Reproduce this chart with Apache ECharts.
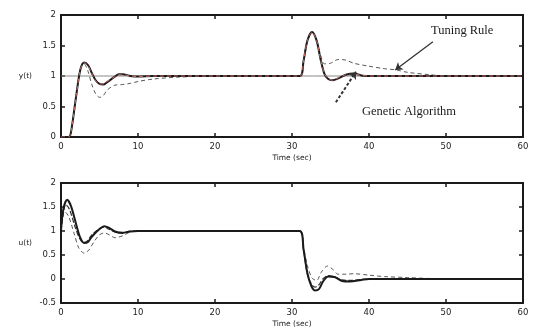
<!DOCTYPE html>
<html>
<head>
<meta charset="utf-8">
<script src="https://cdn.jsdelivr.net/npm/echarts@6/dist/echarts.min.js"></script>
<style>
  html, body { margin: 0; padding: 0; background: #fff; }
  #chart { width: 536px; height: 331px; }
</style>
</head>
<body>
<div id="chart"></div>
<script>
// output y(t): genetic algorithm (solid black), overlay (red dashed), tuning rule (thin dashed)
const yGA = [
  [0, 0], [1, 0], [1.3, 0.08], [2, 0.7], [2.5, 1.1], [3, 1.22], [3.5, 1.18], [4, 1.05],
  [4.5, 0.93], [5, 0.87], [5.5, 0.86], [6, 0.9], [7, 0.99], [7.5, 1.03], [8, 1.03], [9, 1.0],
  [10, 0.99], [12, 1.0], [31, 1.0], [31.5, 1.25], [32, 1.58], [32.6, 1.72], [33.2, 1.58],
  [33.7, 1.28], [34.2, 1.04], [34.7, 0.95], [35.3, 0.93], [36, 0.96], [37, 1.02], [38, 1.04],
  [39, 1.01], [40, 1.0], [60, 1.0]
];
const yRef = [
  [0, 0], [1, 0], [1.3, 0.08], [2, 0.7], [2.5, 1.1], [3, 1.22], [3.5, 1.17], [4, 1.04],
  [4.5, 0.92], [5, 0.87], [5.5, 0.87], [6, 0.91], [7, 0.99], [7.5, 1.02], [8, 1.02], [9, 1.0],
  [10, 0.99], [12, 1.0], [31, 1.0], [31.5, 1.25], [32, 1.58], [32.6, 1.72], [33.2, 1.58],
  [33.7, 1.28], [34.2, 1.04], [34.7, 0.96], [35.3, 0.93], [36, 0.97], [37, 1.02], [38, 1.03],
  [39, 1.01], [40, 1.0], [60, 1.0]
];
const yTR = [
  [0, 0], [1, 0], [1.3, 0.08], [2, 0.7], [2.5, 1.1], [3, 1.2], [3.5, 1.08], [4, 0.86],
  [4.5, 0.71], [5, 0.65], [5.5, 0.68], [6, 0.77], [7, 0.85], [8, 0.86], [9, 0.88], [10, 0.91],
  [12, 0.95], [15, 0.98], [20, 1.0], [31, 1.0], [31.5, 1.25], [32, 1.58], [32.6, 1.72],
  [33.2, 1.58], [33.7, 1.35], [34.2, 1.2], [35, 1.21], [36, 1.27], [37, 1.26], [38, 1.21],
  [40, 1.16], [42, 1.12], [43.5, 1.1], [45, 1.06], [48, 1.02], [50, 1.0], [60, 1.0]
];
const ySet = [[0, 1], [60, 1]];

// control u(t)
const uGA = [
  [0, 1.0], [0.3, 1.45], [0.8, 1.65], [1.3, 1.52], [2, 1.12], [2.5, 0.86], [3, 0.75],
  [3.5, 0.77], [4, 0.88], [5, 1.04], [5.6, 1.1], [6.2, 1.07], [7, 0.99], [8, 0.96], [9, 0.99],
  [10, 1.0], [31, 1.0], [31.5, 0.62], [32, 0.12], [32.5, -0.14], [33, -0.24], [33.5, -0.21],
  [34, -0.06], [34.7, 0.05], [35.5, 0.04], [36.5, -0.04], [37.5, -0.05], [39, -0.02],
  [40, 0], [60, 0]
];
const uGA2 = [
  [0, 1.0], [0.3, 1.35], [0.6, 1.55], [1.1, 1.45], [1.8, 1.1], [2.4, 0.85], [2.9, 0.76],
  [3.4, 0.79], [4, 0.92], [5, 1.05], [5.6, 1.08], [6.2, 1.04], [7, 0.98], [8, 0.97], [9, 1.0],
  [10, 1.0], [31, 1.0], [31.5, 0.6], [32, 0.1], [32.5, -0.1], [33, -0.17], [33.5, -0.12],
  [34, 0.0], [34.7, 0.07], [35.5, 0.05], [36.5, -0.02], [37.5, -0.03], [39, -0.01],
  [40, 0], [60, 0]
];
const uTR = [
  [0, 1.0], [0.2, 1.3], [0.5, 1.4], [1, 1.3], [1.7, 0.95], [2.3, 0.65], [3, 0.54],
  [3.6, 0.6], [4.3, 0.78], [5, 0.92], [5.6, 0.96], [6.3, 0.92], [7, 0.86], [8, 0.9],
  [9, 0.98], [10, 1.0], [31, 1.0], [31.5, 0.65], [32, 0.28], [32.6, 0.02], [33.2, -0.03],
  [33.8, 0.14], [34.6, 0.27], [35.3, 0.2], [36, 0.1], [37, 0.1], [38, 0.11], [40, 0.08],
  [42, 0.05], [45, 0.03], [48, 0.01], [52, 0], [60, 0]
];

const ink = "#1a1a1a";
const chart = echarts.init(document.getElementById("chart"), undefined, { renderer: "canvas" });

function xAxis(gridIndex, withLabel) {
  return {
    type: "value", gridIndex, min: 0, max: 60, interval: 10,
    position: withLabel ? "bottom" : "top",
    name: withLabel ? "Time (sec)" : "",
    nameLocation: "middle", nameGap: 17,
    nameTextStyle: { fontFamily: "DejaVu Sans", fontSize: 7.5, color: "#222" },
    axisLine: { show: true, onZero: false, lineStyle: { color: ink, width: 2 } },
    axisTick: { show: true, inside: true, length: 4, lineStyle: { color: ink, width: 1.5 } },
    axisLabel: { show: withLabel, margin: 5, fontFamily: "DejaVu Sans", fontSize: 8.5, color: "#222" },
    splitLine: { show: false }
  };
}
function yAxis(gridIndex, min, withLabel, name) {
  return {
    type: "value", gridIndex, min, max: 2, interval: 0.5,
    position: withLabel ? "left" : "right",
    name: withLabel ? name : "",
    nameLocation: "middle", nameRotate: 0, nameGap: 29,
    nameTextStyle: { fontFamily: "DejaVu Sans", fontSize: 7.5, color: "#222" },
    axisLine: { show: true, onZero: false, lineStyle: { color: ink, width: 2 } },
    axisTick: { show: true, inside: true, length: 4, lineStyle: { color: ink, width: 1.5 } },
    axisLabel: { show: withLabel, margin: 5, fontFamily: "DejaVu Sans", fontSize: 8.5, color: "#222" },
    splitLine: { show: false }
  };
}
function line(data, xi, yi, style, z) {
  return {
    type: "line", xAxisIndex: xi, yAxisIndex: yi, data, showSymbol: false,
    smooth: 0.3, lineStyle: style, z: z || 2, animation: false
  };
}

chart.setOption({
  animation: false,
  grid: [
    { left: 61, right: 13, top: 15, height: 122 },
    { left: 61, right: 13, top: 183, height: 120 }
  ],
  xAxis: [xAxis(0, true), xAxis(0, false), xAxis(1, true), xAxis(1, false)],
  yAxis: [
    yAxis(0, 0, true, "y(t)"), yAxis(0, 0, false),
    yAxis(1, -0.5, true, "u(t)"), yAxis(1, -0.5, false)
  ],
  series: [
    line(ySet, 0, 0, { color: "#888", width: 1 }, 1),
    line(yTR, 0, 0, { color: "#555", width: 1, type: [4, 3] }, 2),
    Object.assign(line(yGA, 0, 0, { color: ink, width: 2 }, 3), {
      markLine: {
        silent: true, symbol: ["none", "arrow"], symbolSize: 7,
        label: { show: false },
        lineStyle: { color: "#333", width: 1.3, type: "solid" },
        data: [
          [{ coord: [48.3, 1.56] }, { coord: [43.4, 1.1] }],
          [{ coord: [35.7, 0.57], lineStyle: { type: [3, 2], width: 2 } }, { coord: [38.3, 1.07] }]
        ]
      }
    }),
    line(yRef, 0, 0, { color: "#c9706a", width: 1, type: [4, 3] }, 4),
    line(uTR, 2, 2, { color: "#555", width: 1, type: [4, 3] }, 2),
    line(uGA2, 2, 2, { color: "#333", width: 1.2, type: [5, 2] }, 3),
    line(uGA, 2, 2, { color: ink, width: 2 }, 4)
  ]
});

// annotation texts anchored in data coordinates of the top plot
const notes = [
  { text: "Tuning Rule", at: [52.1, 1.74] },
  { text: "Genetic Algorithm", at: [45.2, 0.41] }
];
chart.setOption({
  graphic: notes.map((n) => {
    const p = chart.convertToPixel({ gridIndex: 0 }, n.at);
    return {
      type: "text", x: p[0], y: p[1],
      style: {
        text: n.text, fill: "#1a1a1a", align: "center", verticalAlign: "middle",
        font: "12.5px 'Liberation Serif', 'DejaVu Serif', serif"
      }
    };
  })
});
</script>
</body>
</html>
